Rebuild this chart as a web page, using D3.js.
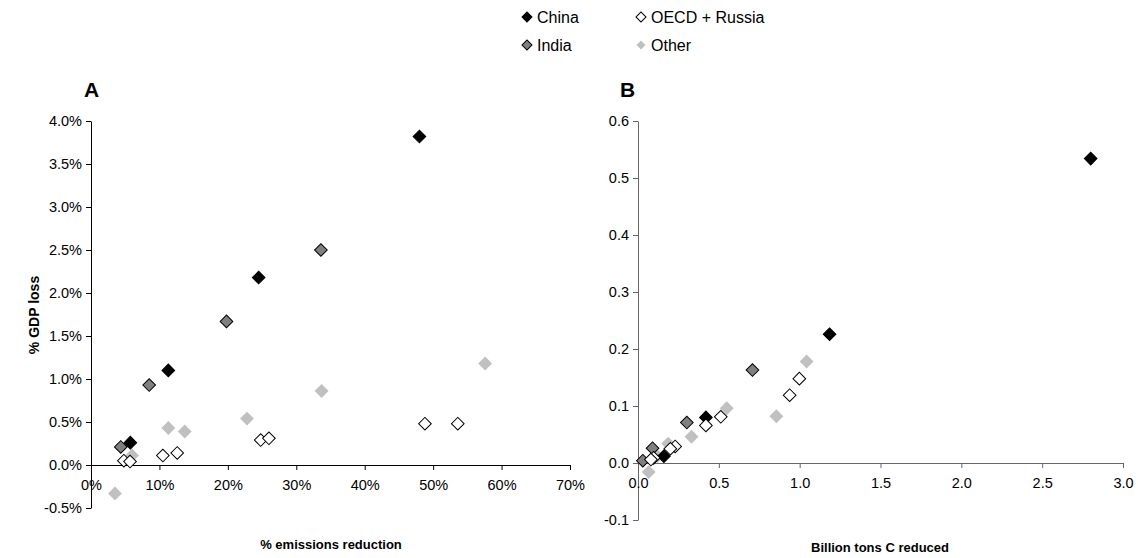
<!DOCTYPE html>
<html>
<head>
<meta charset="utf-8">
<script src="https://cdn.jsdelivr.net/npm/d3@7"></script>
<style>
  body { margin: 0; background: #fff; }
  svg { font-family: "Liberation Sans", Arial, sans-serif; }
</style>
</head>
<body>
<script>
// series names for the legend
var seriesNames = ['China', 'India', 'OECD + Russia', 'Other'];

// panel A: % emissions reduction vs % GDP loss
var chinaA = [[0.480, 0.0382], [0.245, 0.0218], [0.113, 0.0110], [0.0575, 0.0026]];
var indiaA = [[0.336, 0.0250], [0.198, 0.0167], [0.085, 0.0093], [0.0435, 0.0021]];
var oecdA  = [[0.488, 0.0048], [0.536, 0.0048], [0.248, 0.0029], [0.260, 0.0031],
              [0.105, 0.0011], [0.126, 0.0014], [0.048, 0.0005], [0.057, 0.0004]];
var otherA = [[0.576, 0.0118], [0.337, 0.0086], [0.228, 0.0054], [0.113, 0.0043],
              [0.137, 0.0039], [0.060, 0.0011], [0.035, -0.0033]];

// panel B: billion tons C reduced vs % GDP loss
var chinaB = [[2.80, 0.534], [1.185, 0.226], [0.42, 0.080], [0.16, 0.012]];
var indiaB = [[0.708, 0.163], [0.302, 0.071], [0.09, 0.026], [0.03, 0.004]];
var oecdB  = [[0.998, 0.148], [0.938, 0.119], [0.512, 0.081], [0.42, 0.066],
              [0.23, 0.029], [0.20, 0.025], [0.097, 0.009], [0.08, 0.006]];
var otherB = [[1.043, 0.178], [0.856, 0.082], [0.549, 0.096], [0.331, 0.046],
              [0.187, 0.034], [0.12, 0.012], [0.066, -0.016]];

var ticksAx = [0, 0.1, 0.2, 0.3, 0.4, 0.5, 0.6, 0.7];
var ticksAy = [-0.005, 0, 0.005, 0.01, 0.015, 0.02, 0.025, 0.03, 0.035, 0.04];
var ticksBx = [0, 0.5, 1, 1.5, 2, 2.5, 3];
var ticksBy = [-0.1, 0, 0.1, 0.2, 0.3, 0.4, 0.5, 0.6];

var styles = {
  'China':         {fill: '#000000', stroke: '#000000'},
  'India':         {fill: '#808080', stroke: '#000000'},
  'OECD + Russia': {fill: '#ffffff', stroke: '#000000'},
  'Other':         {fill: '#c0c0c0', stroke: 'none'}
};

var svg = d3.select('body').append('svg').attr('width', 1138).attr('height', 558);

var diamond = d3.symbol().type(d3.symbolSquare);

function drawPanel(opts) {
  var x = d3.scaleLinear().domain(opts.xDomain).range(opts.xRange);
  var y = d3.scaleLinear().domain(opts.yDomain).range(opts.yRange);

  var yAxis = d3.axisLeft(y).tickValues(opts.yTicks).tickFormat(opts.yFmt)
      .tickSize(5).tickSizeOuter(0).tickPadding(4);
  var xAxis = d3.axisBottom(x).tickValues(opts.xTicks).tickFormat(opts.xFmt)
      .tickSize(5).tickSizeOuter(0).tickPadding(opts.xPad);

  var gy = svg.append('g').attr('transform', 'translate(' + x(0) + ',0)').call(yAxis);
  var gx = svg.append('g').attr('transform', 'translate(0,' + y(0) + ')').call(xAxis);

  [gx, gy].forEach(function (g) {
    g.selectAll('path, line').attr('stroke', opts.axisColor);
    g.selectAll('text').attr('font-size', 14.5).attr('fill', '#000')
      .attr('font-family', '"Liberation Sans", Arial, sans-serif');
  });

  // draw order: Other, India, China, OECD
  var layers = [['Other', opts.data.Other], ['India', opts.data.India],
                ['China', opts.data.China], ['OECD + Russia', opts.data['OECD + Russia']]];
  layers.forEach(function (l) {
    var st = styles[l[0]];
    svg.append('g').selectAll('path')
      .data(l[1])
      .enter().append('path')
        .attr('d', diamond.size(l[0] === 'Other' ? 96 : 80)())
        .attr('transform', function (d) { return 'translate(' + x(d[0]) + ',' + y(d[1]) + ') rotate(45)'; })
        .attr('fill', st.fill)
        .attr('stroke', st.stroke)
        .attr('stroke-width', 1);
  });

  svg.append('text')
    .attr('x', opts.letterX).attr('y', 97)
    .attr('font-size', 21).attr('font-weight', 'bold')
    .text(opts.letter);

  svg.append('text')
    .attr('x', opts.xTitle[0]).attr('y', opts.xTitle[1])
    .attr('text-anchor', 'middle')
    .attr('font-size', 13).attr('font-weight', 'bold')
    .text(opts.xLabel);
}

var pct0 = d3.format('.0%');
var pct1 = d3.format('.1%');
var num1 = d3.format('.1f');

drawPanel({
  xDomain: [0, 0.7], xRange: [91, 570],
  yDomain: [-0.005, 0.04], yRange: [508, 121],
  xTicks: ticksAx, yTicks: ticksAy,
  xFmt: pct0, yFmt: function (d) { return pct1(d).replace('−', '-'); },
  xPad: 10, axisColor: '#000',
  data: {'China': chinaA, 'India': indiaA, 'OECD + Russia': oecdA, 'Other': otherA},
  letter: 'A', letterX: 84,
  xLabel: '% emissions reduction', xTitle: [331, 549]
});

drawPanel({
  xDomain: [0, 3], xRange: [638, 1123],
  yDomain: [-0.1, 0.6], yRange: [520, 121],
  xTicks: ticksBx, yTicks: ticksBy,
  xFmt: num1, yFmt: function (d) { return num1(d).replace('−', '-'); },
  xPad: 10, axisColor: '#666',
  data: {'China': chinaB, 'India': indiaB, 'OECD + Russia': oecdB, 'Other': otherB},
  letter: 'B', letterX: 620,
  xLabel: 'Billion tons C reduced', xTitle: [880, 552]
});

// y title on the left panel
svg.append('text')
  .attr('transform', 'translate(39,315) rotate(-90)')
  .attr('text-anchor', 'middle')
  .attr('font-size', 14).attr('font-weight', 'bold')
  .text('% GDP loss');

// legend
var legendPos = [[527, 17], [527, 45], [641, 17], [641, 45]];
var legend = svg.append('g').selectAll('g')
  .data(seriesNames)
  .enter().append('g')
    .attr('transform', function (d, i) { return 'translate(' + legendPos[i][0] + ',' + legendPos[i][1] + ')'; });

legend.append('path')
  .attr('d', function (d) { return diamond.size(d === 'Other' ? 40 : 50)(); })
  .attr('transform', 'rotate(45)')
  .attr('fill', function (d) { return styles[d].fill; })
  .attr('stroke', function (d) { return styles[d].stroke; })
  .attr('stroke-width', 1);

legend.append('text')
  .attr('x', 10).attr('y', 6)
  .attr('font-size', 16)
  .text(function (d) { return d; });
</script>
</body>
</html>
